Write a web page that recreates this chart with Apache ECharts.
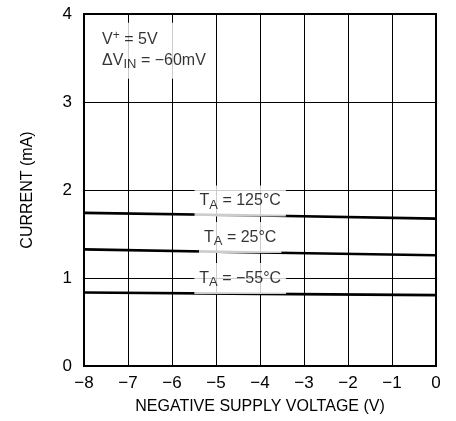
<!DOCTYPE html>
<html><head><meta charset="utf-8">
<script src="https://cdn.jsdelivr.net/npm/echarts@6/dist/echarts.min.js"></script>
<style>html,body{margin:0;padding:0;background:#fff}#c{width:456px;height:421px}</style>
</head><body><div id="c"></div>
<script>
// Data
const xVolts = [-8, -4, 0];
const iT125 = [1.74, 1.71, 1.675];
const iT25 = [1.325, 1.29, 1.258];
const iTm55 = [0.835, 0.82, 0.805];
const curveLabels = ['125°C', '25°C', '−55°C'];
const curveLabelX = [-4.45, -4.45, -4.45];
const curveLabelY = [1.875, 1.46, 0.995];
const noteX = -7.68, noteY = 3.9;
const xTicks = [-8, -7, -6, -5, -4, -3, -2, -1, 0];
const yTicks = [0, 1, 2, 3, 4];

const FONT = '"Liberation Sans", Arial, sans-serif';
const fmt = v => (v < 0 ? '\u2212' + Math.abs(v) : String(v));
const pair = arr => xVolts.map((x, i) => [x, arr[i]]);
const rich = {
  t: {fontFamily: FONT, fontSize: 16, color: '#000'},
  s: {fontFamily: FONT, fontSize: 13, color: '#000', padding: [8, 0, 0, 0]},
  sup: {fontFamily: FONT, fontSize: 12, color: '#000', padding: [0, 0, 7, 0]}
};
const lineSeries = (d) => ({
  type: 'line', data: pair(d), symbol: 'none', silent: true,
  lineStyle: {color: '#000', width: 2.6}, z: 3
});

const chart = echarts.init(document.getElementById('c'), null, {renderer: 'canvas'});
chart.setOption({
  animation: false,
  backgroundColor: '#fff',
  grid: {left: 84, right: 20, top: 14, bottom: 55, show: true, borderColor: '#000', borderWidth: 2, backgroundColor: 'transparent'},
  xAxis: {
    type: 'value', min: xTicks[0], max: xTicks[xTicks.length - 1], interval: 1,
    name: 'NEGATIVE SUPPLY VOLTAGE (V)', nameLocation: 'middle', nameGap: 33,
    nameTextStyle: {fontFamily: FONT, fontSize: 16, color: '#000'},
    axisLine: {show: true, lineStyle: {color: '#000', width: 2}},
    axisTick: {show: false},
    axisLabel: {formatter: fmt, fontFamily: FONT, fontSize: 17, color: '#000', margin: 9},
    splitLine: {show: true, lineStyle: {color: '#000', width: 1}}
  },
  yAxis: {
    type: 'value', min: yTicks[0], max: yTicks[yTicks.length - 1], interval: 1,
    name: 'CURRENT (mA)', nameLocation: 'middle', nameGap: 48,
    nameTextStyle: {fontFamily: FONT, fontSize: 16, color: '#000'},
    axisLine: {show: true, lineStyle: {color: '#000', width: 2}},
    axisTick: {show: false},
    axisLabel: {formatter: fmt, fontFamily: FONT, fontSize: 17, color: '#000', margin: 12},
    splitLine: {show: true, lineStyle: {color: '#000', width: 1}}
  },
  series: [
    lineSeries(iT125),
    lineSeries(iT25),
    lineSeries(iTm55),
    {
      type: 'scatter', symbolSize: 0, silent: true, z: 4,
      data: curveLabels.map((t, i) => ({value: [curveLabelX[i], curveLabelY[i]], name: t})),
      label: {
        show: true, position: 'inside', align: 'center', verticalAlign: 'middle',
        backgroundColor: '#fff', padding: [5, 5, 5, 5],
        formatter: p => '{t|T}{s|A}{t| = ' + p.name + '}', rich: rich
      }
    },
    {
      type: 'scatter', symbolSize: 0, silent: true, z: 4,
      data: [[noteX, noteY]],
      label: {
        show: true, position: [0, 0], align: 'left', verticalAlign: 'top',
        backgroundColor: '#fff', padding: [6, 6, 8, 4], lineHeight: 21,
        formatter: () => '{t|V}{sup|+}{t| = 5V}\n{t|\u0394V}{s|IN}{t| = \u221260mV}', rich: rich
      }
    }
  ]
});
</script></body></html>
